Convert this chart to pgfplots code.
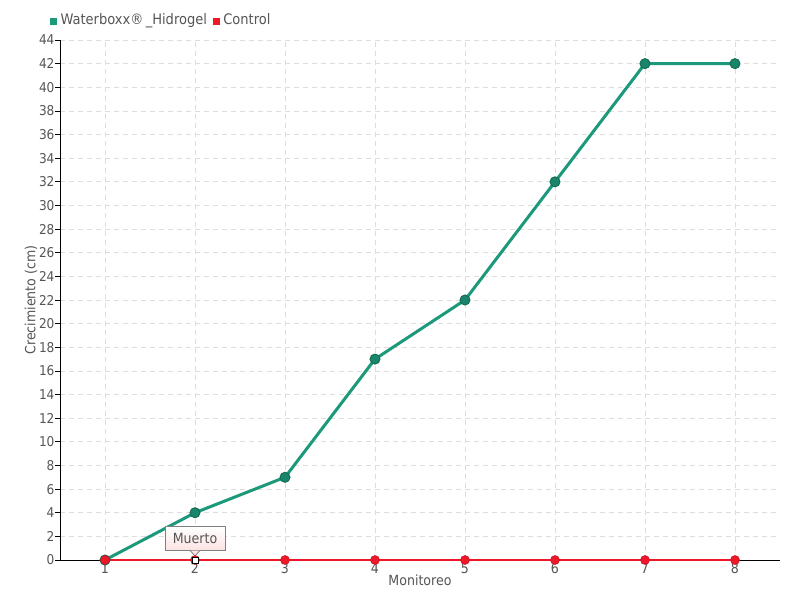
\documentclass[border=0pt]{standalone}
\usepackage{pgfplots}
\pgfplotsset{compat=1.18}
\usepackage{fontspec}
\setmainfont{DejaVu Sans Condensed}
\definecolor{teal1}{RGB}{28,152,122}
\definecolor{tealdark}{RGB}{22,110,85}
\definecolor{redc}{RGB}{238,24,40}
\definecolor{txt}{RGB}{85,85,85}
\definecolor{gridc}{RGB}{221,221,221}
\definecolor{tipbot}{RGB}{252,226,226}
\begin{document}
\begin{tikzpicture}[x=1pt,y=1pt]
\useasboundingbox (0,0) rectangle (800,600);
\begin{axis}[
  at={(60pt,40pt)}, anchor=south west,
  scale only axis, width=720pt, height=520pt,
  xmin=0.5, xmax=8.5, ymin=0, ymax=44,
  axis x line*=bottom, axis y line*=left,
  axis line style={black, line width=1pt, -},
  xtick={1,...,8}, ytick={0,2,...,44},
  tick align=outside, major tick length=5pt,
  tick style={black, line width=0.8pt},
  xtick style={draw=none},
  grid=major,
  major grid style={gridc, dash pattern=on 5pt off 4pt, line width=0.8pt},
  /pgf/number format/assume math mode=true,
  tick label style={font=\fontsize{14}{16}\selectfont, text=txt},
  xticklabel style={yshift=5pt},
  yticklabel style={xshift=3pt, font=\fontsize{13.5}{16}\selectfont},
  xlabel={Monitoreo}, ylabel={Crecimiento (cm)},
  label style={font=\fontsize{14}{16}\selectfont, text=txt},
  xlabel style={yshift=6pt},
  ylabel style={yshift=-5pt},
  legend style={at={(rel axis cs:0,1)}, anchor=west, xshift=-10pt, yshift=20pt,
    draw=none, fill=none, font=\fontsize{14.5}{16}\selectfont, text=txt,
    legend columns=-1, column sep=2pt, inner sep=0pt,
    /tikz/every even column/.append style={column sep=4pt}},
  legend image code/.code={\fill[#1] (0pt,-4pt) rectangle (6pt,2pt);},
  clip=false,
]
\addlegendimage{teal1, fill=teal1}
\addlegendentry{Waterboxx®\,\_Hidrogel}
\addlegendimage{redc, fill=redc}
\addlegendentry{Control}
\addplot[forget plot, teal1, line width=3pt, mark=*, mark size=5pt,
  mark options={fill=teal1!88!black, draw=tealdark, line width=1pt}]
  coordinates {(1,0) (2,4) (3,7) (4,17) (5,22) (6,32) (7,42) (8,42)};
\addplot[forget plot, redc, line width=1.5pt, mark=*, mark size=4.5pt,
  mark options={fill=redc, draw=redc!80!black, line width=0.5pt}]
  coordinates {(1,0) (2,0) (3,0) (4,0) (5,0) (6,0) (7,0) (8,0)};
\addplot[forget plot, only marks, mark=square*, mark size=3pt,
  mark options={fill=white, draw=black, line width=1pt}]
  coordinates {(2,0)};
\node[draw=gray, line width=0.8pt, top color=white, bottom color=tipbot, inner sep=4pt,
  font=\fontsize{14}{16}\selectfont, text=txt, anchor=south, minimum width=60pt, minimum height=24pt]
  (tip) at (axis cs:2,0) [yshift=9pt] {Muerto};
\fill[tipbot] ([xshift=-4.5pt,yshift=0.5pt]tip.south) -- ([yshift=-5pt]tip.south) -- ([xshift=4.5pt,yshift=0.5pt]tip.south) -- cycle;
\draw[gray, line width=0.8pt] ([xshift=-4.5pt]tip.south) -- ([yshift=-5pt]tip.south) -- ([xshift=4.5pt]tip.south);
\end{axis}
\end{tikzpicture}
\end{document}
